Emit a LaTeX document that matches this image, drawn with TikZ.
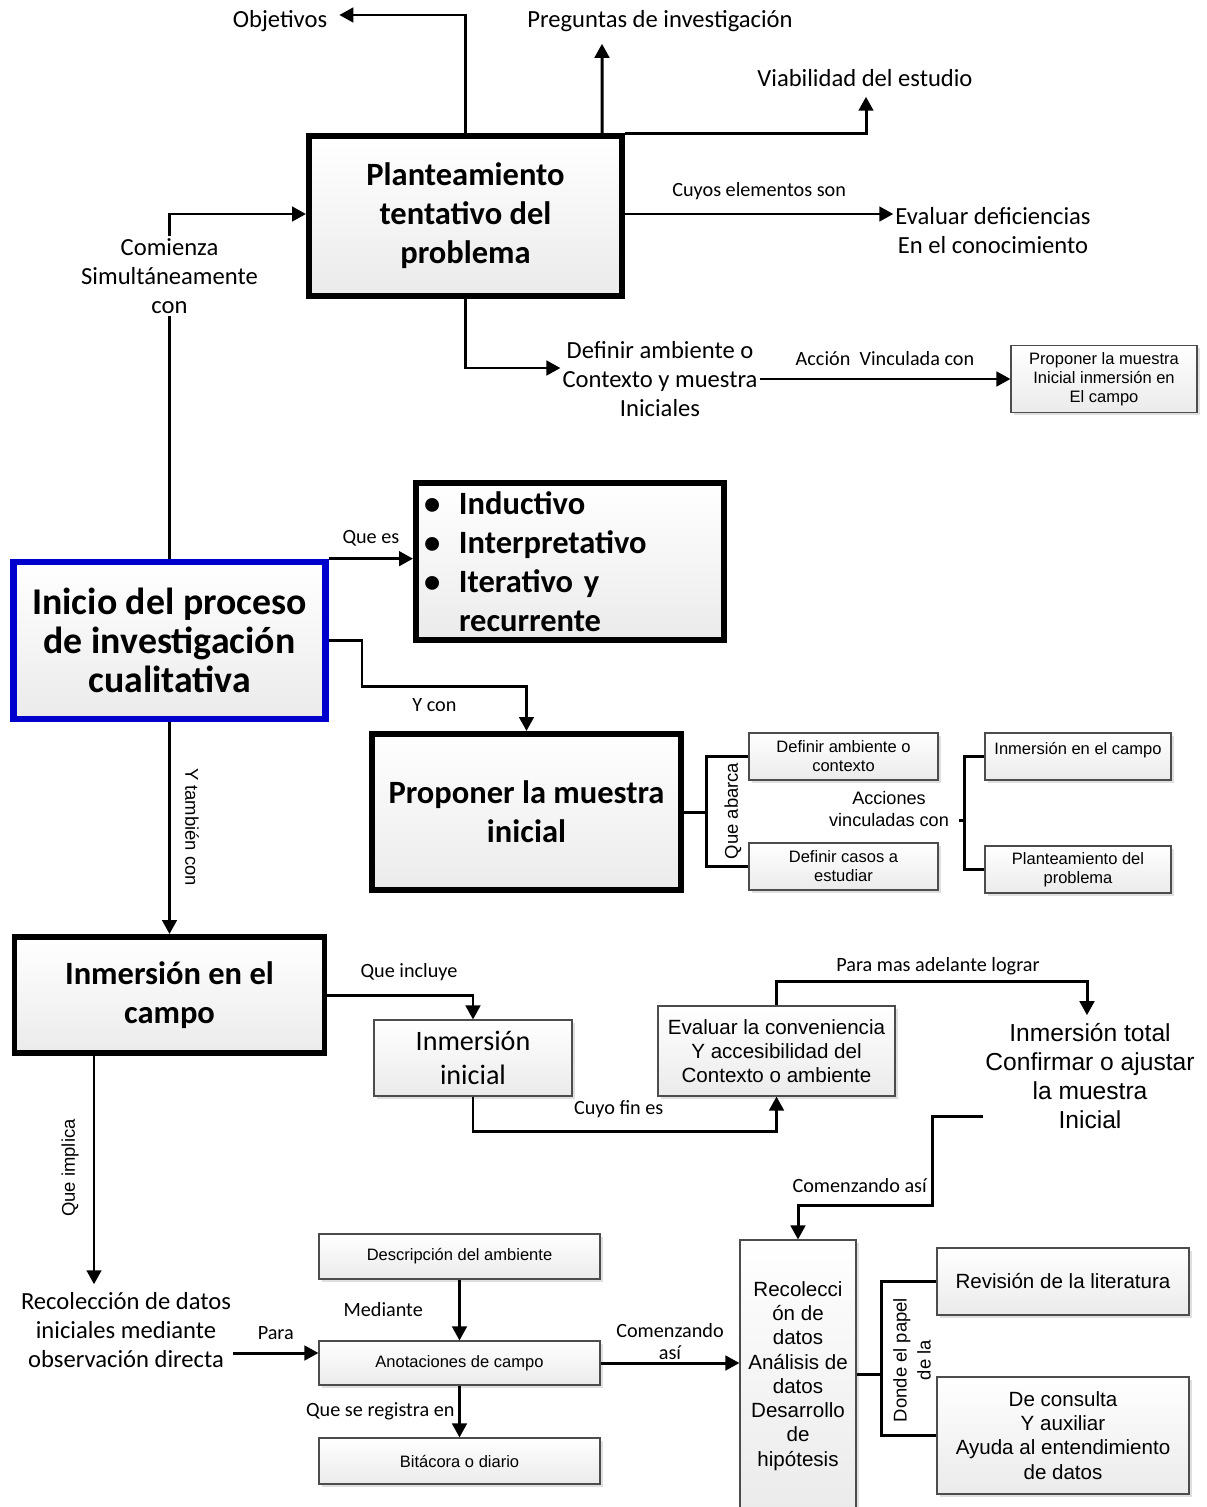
\documentclass[tikz,border=0pt]{standalone}
\usepackage{fontspec}
\setmainfont{Carlito}
\newfontfamily\arialfont{Liberation Sans}
\usepackage{xcolor}
\usepackage{tikz}
\usetikzlibrary{shapes,arrows,positioning,calc,shadows,arrows.meta}
\definecolor{inicioblue}{RGB}{0,0,205}
\newcommand{\bul}{\makebox[7mm][l]{\textbullet}}

\begin{document}
\begin{tikzpicture}[x=0.2mm, y=-0.2mm]
    % Styles
    \tikzstyle{shadowed} = [drop shadow={shadow xshift=1.6pt, shadow yshift=-1.6pt, opacity=0.25}]
    \tikzstyle{bigbox} = [draw, rectangle, line width=3.4pt, align=center, top color=white, bottom color=gray!16, shadowed, font=\fontsize{18.5}{22.2}\selectfont\bfseries]
    \tikzstyle{iniciobox} = [bigbox, draw=inicioblue, line width=3.8pt, font=\fontsize{21.5}{22.2}\selectfont\bfseries]
    \tikzstyle{smallbox} = [draw=black!70, rectangle, line width=0.6pt, align=center, top color=white, bottom color=gray!16, shadowed, inner sep=1pt, font=\arialfont\fontsize{9.4}{10.8}\selectfont]
    \tikzstyle{midbox} = [smallbox, font=\arialfont\fontsize{11.7}{13.8}\selectfont]
    \tikzstyle{txt} = [align=center, inner sep=1pt, font=\fontsize{14}{16.5}\selectfont]
    \tikzstyle{lbl} = [align=center, inner sep=1pt, font=\fontsize{11.5}{12.5}\selectfont]
    \tikzstyle{rotlbl} = [align=center, inner sep=1pt, font=\arialfont\fontsize{10.5}{13.7}\selectfont]
    \tikzstyle{line} = [line width=1.7pt]
    \tikzstyle{link} = [line width=1.7pt, -{Triangle[length=2.8mm, width=2.9mm]}]

    \useasboundingbox (0,0) rectangle (1207,1507);

    % Main boxes
    \node [bigbox, minimum width=62.6mm, minimum height=32mm] (Plan) at (465.5,216) {Planteamiento\\tentativo del\\problema};
    \node [iniciobox, minimum width=62.4mm, minimum height=31.4mm] (Ini) at (169.5,640.5) {Inicio del proceso\\de investigación\\cualitativa};
    \node [bigbox, minimum width=61.6mm, minimum height=31.4mm, text width=58.4mm, align=left, inner xsep=0.5mm] (Car) at (570,561.5) {\bul Inductivo\\\bul Interpretativo\\\bul Iterativo y\\\hspace*{7mm}recurrente};
    \node [bigbox, minimum width=61.8mm, minimum height=31.2mm] (Prop) at (526.5,812) {Proponer la muestra\\inicial};
    \node [bigbox, minimum width=62mm, minimum height=23.2mm] (InmE) at (169.5,995) {Inmersión en el\\campo};

    % Small boxes
    \node [smallbox, minimum width=37.2mm, minimum height=13.4mm] (PropM) at (1104,379) {Proponer la muestra\\Inicial inmersión en\\El campo};
    \node [smallbox, minimum width=37.8mm, minimum height=9.4mm] (Amb) at (843.5,756.5) {Definir ambiente o\\contexto};
    \node [smallbox, minimum width=37.8mm, minimum height=9.4mm] (Cas) at (843.5,866.5) {Definir casos a\\estudiar};
    \node [smallbox, minimum width=37.2mm, minimum height=9.4mm, text depth=3.2mm] (InmC) at (1078,756.5) {Inmersión en el campo};
    \node [smallbox, minimum width=37.2mm, minimum height=9.4mm] (PlanP) at (1078,869.5) {Planteamiento del\\problema};
    \node [smallbox, font=\fontsize{16}{19.3}\selectfont, minimum width=39.6mm, minimum height=15.2mm] (InmI) at (473,1058) {Inmersión\\inicial};
    \node [midbox, minimum width=47.4mm, minimum height=18mm] (Eval) at (776.5,1051) {Evaluar la conveniencia\\Y accesibilidad del\\Contexto o ambiente};
    \node [smallbox, minimum width=56.2mm, minimum height=9mm] (Desc) at (459.5,1256.5) {Descripción del ambiente};
    \node [smallbox, minimum width=56.2mm, minimum height=8.8mm] (Anot) at (459.5,1363) {Anotaciones de campo};
    \node [smallbox, minimum width=56.2mm, minimum height=9.2mm] (Bit) at (459.5,1461) {Bitácora o diario};
    \node [midbox, minimum width=23.2mm, minimum height=54.4mm] (Rec) at (798,1376) {Recolecci\\ón de\\datos\\Análisis de\\datos\\Desarrollo\\de\\hipótesis};
    \node [midbox, minimum width=50.4mm, minimum height=13.4mm] (Rev) at (1063,1281.5) {Revisión de la literatura};
    \node [midbox, minimum width=50.4mm, minimum height=23.4mm] (Cons) at (1063,1435.5) {De consulta\\Y auxiliar\\Ayuda al entendimiento\\de datos};

    % Free texts
    \node [txt] (Obj) at (280,21) {Objetivos};
    \node [txt] (Preg) at (660,21) {Preguntas de investigación};
    \node [txt] (Viab) at (865,78) {Viabilidad del estudio};
    \node [txt] (EvD) at (993,231) {Evaluar deficiencias\\En el conocimiento};
    \node [txt] (DefA) at (660,379) {Definir ambiente o\\Contexto y muestra\\Iniciales};
    \node [txt] (Com) at (169.5,276) {Comienza\\Simultáneamente\\con};
    \node [txt] (RecD) at (126,1330) {Recolección de datos\\iniciales mediante\\observación directa};
    \node [txt, font=\arialfont\fontsize{14}{16.5}\selectfont] (InmT) at (1090,1076) {Inmersión total\\Confirmar o ajustar\\la muestra\\Inicial};
    \node [rotlbl, font=\arialfont\fontsize{10.3}{12.5}\selectfont] (Acc) at (889,809) {Acciones\\vinculadas con};

    % Rotated labels
    \node [rotlbl, rotate=-90] (Ytc) at (192,827) {Y también con};
    \node [rotlbl, rotate=90] (Qab) at (733,811) {Que abarca};
    \node [rotlbl, rotate=90] (Qim) at (70,1168) {Que implica};
    \node [rotlbl, rotate=90] (Dpp) at (912,1360) {Donde el papel\\de la};

    % Edges
    % Planteamiento - outputs
    \draw [link] (Plan.north) |- ($(Obj.east)+(10,-6)$);
    \draw [link] ($(Plan.north)+(136.5,0)$) -- ($(Preg.south)+(-58,10)$);
    \draw [link] (Plan.north east) -| ($(Viab.south)+(1,8)$);
    \draw [link] ($(Plan.east)+(0,-2)$) -- node[lbl, above=6pt]{Cuyos elementos son} ($(Plan.east -| EvD.west)+(0,-2)$);
    \draw [link] (Plan.south) |- ($(DefA.west)+(0,-11)$);
    \draw [link] (DefA.east) -- node[lbl, above=6pt]{Acción\ \ Vinculada con} (PropM.west);

    % Inicio - Planteamiento
    \draw [line] (Ini.north) -- (Com.south);
    \draw [link] (Com.north) |- ($(Plan.west)+(0,-2)$);

    % Inicio - Caracteristicas - Proponer
    \draw [link] (Ini.north east) -- node[lbl, above=5pt]{Que es} (Ini.north east -| Car.west);
    \draw [link] (Ini.east) -| (362,686) -| node[lbl, pos=0.22, below=5pt]{Y con} (Prop.north);
    \draw [line] (Amb.west) -- ++(-42,0) coordinate (qa) |- (Cas.west);
    \draw [line] (Prop.east) -- (Prop.east -| qa);
    \draw [line] (InmC.west) -- ++(-20,0) coordinate (ac) |- (PlanP.west);
    \draw [line] ($(Acc.east |- 0,820)+(8,0)$) -- (ac |- 0,820);

    % Inicio - Inmersion
    \draw [link] (Ini.south) -- (InmE.north);
    \draw [link] (InmE.east) -| node[lbl, pos=0.28, above=6pt]{Que incluye} (InmI.north);
    \draw [link] (InmI.south) -- ++(0,35) -| node[lbl, pos=0.24, above=6pt]{Cuyo fin es} (Eval.south);
    \draw [link] (Eval.north) -- ++(0,-24) -| node[lbl, pos=0.26, above=2pt]{Para mas adelante lograr} ($(InmT.north)+(-3,-6)$);
    \draw [link] (InmT.west |- 0,1116) -| (932,1205) -| node[lbl, pos=0.27, above=5pt]{Comenzando así} (Rec.north);

    % Recoleccion
    \draw [link] (InmE.south -| 94,0) -- ($(RecD.north -| 94,0)+(0,-6)$);
    \draw [link] (RecD.east |- 0,1353) -- node[lbl, above=6pt]{Para} (Anot.west |- 0,1353);
    \draw [link] (Desc.south) -- node[lbl, left=19pt]{Mediante} (Anot.north);
    \draw [link] (Anot.south) -- node[lbl, left=1pt]{Que se registra en} (Bit.north);
    \draw [link] (Anot.east) -- node[lbl, above=0pt]{Comenzando\\así} (Anot.east -| Rec.west);
    \draw [line] (Rev.west) -- ++(-55,0) coordinate (dp) |- (Cons.west);
    \draw [line] (Rec.east |- 0,1374) -- (dp |- 0,1374);

\end{tikzpicture}
\end{document}
